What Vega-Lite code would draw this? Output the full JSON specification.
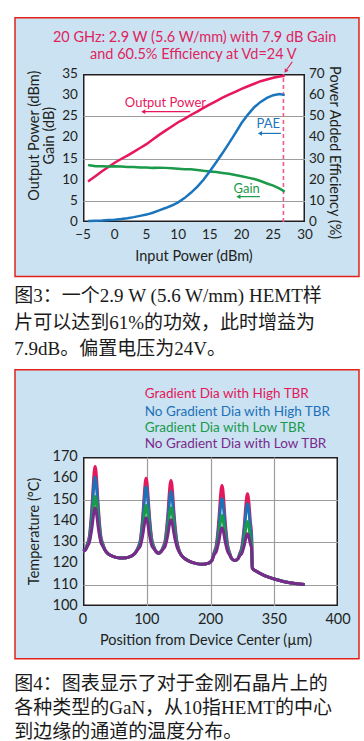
{
  "$schema": "https://vega.github.io/schema/vega-lite/v6.json",
  "background": "white",
  "padding": {"left": 12, "top": 15, "right": 8, "bottom": 10},
  "spacing": 6,
  "config": {
    "font": "Lato",
    "view": {"fill": "white", "stroke": "#231f20", "strokeWidth": 3},
    "text": {"color": "#231f20"},
    "axis": {"labels": false, "ticks": false, "domain": false, "grid": false, "gridColor": "#9d9d9d", "gridWidth": 1.2, "gridOpacity": 1}
  },
  "datasets": {
    "power": [
      {"pin": -4.2, "pout": 9.55, "gain": 13.5, "pae": 0.5},
      {"pin": -4, "pout": 9.8, "gain": 13.4, "pae": 0.5},
      {"pin": -3, "pout": 10.9, "gain": 13.2, "pae": 0.6},
      {"pin": -2, "pout": 12.0, "gain": 13.2, "pae": 0.7},
      {"pin": -1, "pout": 13.0, "gain": 13.1, "pae": 0.9},
      {"pin": 0, "pout": 14.0, "gain": 13.2, "pae": 1.1},
      {"pin": 1, "pout": 14.9, "gain": 13.1, "pae": 1.4},
      {"pin": 2, "pout": 15.7, "gain": 13.0, "pae": 1.8},
      {"pin": 3, "pout": 16.6, "gain": 13.0, "pae": 2.3},
      {"pin": 4, "pout": 17.5, "gain": 12.9, "pae": 2.9},
      {"pin": 5, "pout": 18.4, "gain": 12.9, "pae": 3.5},
      {"pin": 6, "pout": 19.5, "gain": 12.8, "pae": 4.4},
      {"pin": 7, "pout": 20.6, "gain": 12.85, "pae": 5.5},
      {"pin": 8, "pout": 21.6, "gain": 12.8, "pae": 6.6},
      {"pin": 9, "pout": 22.6, "gain": 12.7, "pae": 7.8},
      {"pin": 10, "pout": 23.6, "gain": 12.6, "pae": 9.3},
      {"pin": 11, "pout": 24.4, "gain": 12.5, "pae": 11.3},
      {"pin": 12, "pout": 25.3, "gain": 12.45, "pae": 13.8},
      {"pin": 13, "pout": 26.1, "gain": 12.3, "pae": 16.6},
      {"pin": 14, "pout": 27.0, "gain": 12.1, "pae": 20.0},
      {"pin": 15, "pout": 27.8, "gain": 11.95, "pae": 24.0},
      {"pin": 16, "pout": 28.6, "gain": 11.8, "pae": 28.3},
      {"pin": 17, "pout": 29.4, "gain": 11.6, "pae": 32.6},
      {"pin": 18, "pout": 30.1, "gain": 11.4, "pae": 37.2},
      {"pin": 19, "pout": 30.8, "gain": 11.1, "pae": 41.9},
      {"pin": 20, "pout": 31.5, "gain": 10.8, "pae": 46.8},
      {"pin": 21, "pout": 32.1, "gain": 10.5, "pae": 50.8},
      {"pin": 22, "pout": 32.7, "gain": 10.15, "pae": 54.3},
      {"pin": 23, "pout": 33.3, "gain": 9.7, "pae": 56.8},
      {"pin": 24, "pout": 33.7, "gain": 9.1, "pae": 58.7},
      {"pin": 25, "pout": 34.1, "gain": 8.6, "pae": 60.0},
      {"pin": 26, "pout": 34.4, "gain": 7.9, "pae": 60.5},
      {"pin": 26.8, "pout": 34.6, "gain": 7.2, "pae": 60.0}
    ],
    "temp": [
      {"pos": 0, "gh": 125.8, "ngh": 125.8, "gl": 125.8, "ngl": 125.8},
      {"pos": 3.5, "gh": 126.5, "ngh": 126.4, "gl": 126.3, "ngl": 126.2},
      {"pos": 7, "gh": 129.3, "ngh": 129.0, "gl": 128.5, "ngl": 128.1},
      {"pos": 10, "gh": 132.8, "ngh": 132.0, "gl": 130.7, "ngl": 129.9},
      {"pos": 12.5, "gh": 140.5, "ngh": 138.7, "gl": 135.6, "ngl": 133.7},
      {"pos": 14.5, "gh": 148.9, "ngh": 146.1, "gl": 141.0, "ngl": 137.8},
      {"pos": 16.4, "gh": 158.6, "ngh": 154.5, "gl": 147.1, "ngl": 142.6},
      {"pos": 17.7, "gh": 163.6, "ngh": 158.8, "gl": 150.3, "ngl": 145.1},
      {"pos": 19, "gh": 165.5, "ngh": 160.5, "gl": 151.5, "ngl": 146.0},
      {"pos": 20.3, "gh": 163.6, "ngh": 158.8, "gl": 150.3, "ngl": 145.1},
      {"pos": 21.6, "gh": 158.6, "ngh": 154.5, "gl": 147.1, "ngl": 142.6},
      {"pos": 23.5, "gh": 148.9, "ngh": 146.1, "gl": 141.0, "ngl": 137.8},
      {"pos": 25.5, "gh": 140.5, "ngh": 138.7, "gl": 135.6, "ngl": 133.7},
      {"pos": 28, "gh": 132.8, "ngh": 132.0, "gl": 130.7, "ngl": 129.9},
      {"pos": 31, "gh": 129.3, "ngh": 129.0, "gl": 128.5, "ngl": 128.1},
      {"pos": 35, "gh": 126.0, "ngh": 126.0, "gl": 126.0, "ngl": 126.0},
      {"pos": 40, "gh": 124.4, "ngh": 124.4, "gl": 124.4, "ngl": 124.4},
      {"pos": 48, "gh": 123.2, "ngh": 123.2, "gl": 123.2, "ngl": 123.2},
      {"pos": 58, "gh": 122.6, "ngh": 122.6, "gl": 122.6, "ngl": 122.6},
      {"pos": 68, "gh": 122.7, "ngh": 122.7, "gl": 122.7, "ngl": 122.7},
      {"pos": 76, "gh": 123.5, "ngh": 123.5, "gl": 123.5, "ngl": 123.5},
      {"pos": 82, "gh": 125.0, "ngh": 125.0, "gl": 124.9, "ngl": 124.9},
      {"pos": 87, "gh": 128.0, "ngh": 127.8, "gl": 127.3, "ngl": 126.9},
      {"pos": 90, "gh": 131.1, "ngh": 130.5, "gl": 129.2, "ngl": 128.3},
      {"pos": 92.5, "gh": 137.9, "ngh": 136.5, "gl": 133.4, "ngl": 131.4},
      {"pos": 94.5, "gh": 145.4, "ngh": 143.0, "gl": 138.1, "ngl": 134.8},
      {"pos": 96.4, "gh": 153.9, "ngh": 150.5, "gl": 143.4, "ngl": 138.7},
      {"pos": 97.7, "gh": 158.3, "ngh": 154.4, "gl": 146.1, "ngl": 140.7},
      {"pos": 99, "gh": 160.0, "ngh": 155.9, "gl": 147.2, "ngl": 141.5},
      {"pos": 100.3, "gh": 158.3, "ngh": 154.4, "gl": 146.1, "ngl": 140.7},
      {"pos": 101.6, "gh": 153.9, "ngh": 150.5, "gl": 143.4, "ngl": 138.7},
      {"pos": 103.5, "gh": 145.4, "ngh": 143.0, "gl": 138.1, "ngl": 134.8},
      {"pos": 105.5, "gh": 137.9, "ngh": 136.5, "gl": 133.4, "ngl": 131.4},
      {"pos": 108, "gh": 131.1, "ngh": 130.5, "gl": 129.2, "ngl": 128.3},
      {"pos": 111, "gh": 128.0, "ngh": 127.8, "gl": 127.3, "ngl": 126.9},
      {"pos": 114.5, "gh": 125.6, "ngh": 125.6, "gl": 125.6, "ngl": 125.6},
      {"pos": 118.5, "gh": 124.8, "ngh": 124.8, "gl": 124.8, "ngl": 124.8},
      {"pos": 122.5, "gh": 125.6, "ngh": 125.6, "gl": 125.6, "ngl": 125.6},
      {"pos": 126, "gh": 128.0, "ngh": 127.7, "gl": 127.2, "ngl": 126.9},
      {"pos": 129, "gh": 131.0, "ngh": 130.2, "gl": 129.0, "ngl": 128.2},
      {"pos": 131.5, "gh": 137.6, "ngh": 135.7, "gl": 133.1, "ngl": 131.1},
      {"pos": 133.5, "gh": 144.8, "ngh": 141.8, "gl": 137.5, "ngl": 134.3},
      {"pos": 135.4, "gh": 153.1, "ngh": 148.8, "gl": 142.6, "ngl": 137.9},
      {"pos": 136.7, "gh": 157.4, "ngh": 152.4, "gl": 145.2, "ngl": 139.8},
      {"pos": 138, "gh": 159.0, "ngh": 153.8, "gl": 146.2, "ngl": 140.5},
      {"pos": 139.3, "gh": 157.4, "ngh": 152.4, "gl": 145.2, "ngl": 139.8},
      {"pos": 140.6, "gh": 153.1, "ngh": 148.8, "gl": 142.6, "ngl": 137.9},
      {"pos": 142.5, "gh": 144.8, "ngh": 141.8, "gl": 137.5, "ngl": 134.3},
      {"pos": 144.5, "gh": 137.6, "ngh": 135.7, "gl": 133.1, "ngl": 131.1},
      {"pos": 147, "gh": 131.0, "ngh": 130.2, "gl": 129.0, "ngl": 128.2},
      {"pos": 150, "gh": 127.0, "ngh": 126.7, "gl": 126.2, "ngl": 125.9},
      {"pos": 154, "gh": 124.0, "ngh": 124.0, "gl": 124.0, "ngl": 124.0},
      {"pos": 160, "gh": 122.2, "ngh": 122.2, "gl": 122.2, "ngl": 122.2},
      {"pos": 168, "gh": 120.8, "ngh": 120.8, "gl": 120.8, "ngl": 120.8},
      {"pos": 178, "gh": 119.9, "ngh": 119.9, "gl": 119.9, "ngl": 119.9},
      {"pos": 188, "gh": 119.6, "ngh": 119.6, "gl": 119.6, "ngl": 119.6},
      {"pos": 196, "gh": 120.0, "ngh": 120.0, "gl": 120.0, "ngl": 120.0},
      {"pos": 202, "gh": 121.3, "ngh": 121.3, "gl": 121.3, "ngl": 121.3},
      {"pos": 206, "gh": 125.5, "ngh": 125.1, "gl": 124.6, "ngl": 124.3},
      {"pos": 209, "gh": 128.5, "ngh": 127.5, "gl": 126.4, "ngl": 125.5},
      {"pos": 211.5, "gh": 135.1, "ngh": 132.9, "gl": 130.2, "ngl": 128.2},
      {"pos": 213.5, "gh": 142.4, "ngh": 138.8, "gl": 134.3, "ngl": 131.1},
      {"pos": 215.4, "gh": 150.6, "ngh": 145.6, "gl": 139.1, "ngl": 134.4},
      {"pos": 216.7, "gh": 155.0, "ngh": 149.1, "gl": 141.5, "ngl": 136.1},
      {"pos": 218, "gh": 156.6, "ngh": 150.4, "gl": 142.5, "ngl": 136.8},
      {"pos": 219.3, "gh": 155.0, "ngh": 149.1, "gl": 141.5, "ngl": 136.1},
      {"pos": 220.6, "gh": 150.6, "ngh": 145.6, "gl": 139.1, "ngl": 134.4},
      {"pos": 222.5, "gh": 142.4, "ngh": 138.8, "gl": 134.3, "ngl": 131.1},
      {"pos": 224.5, "gh": 135.1, "ngh": 132.9, "gl": 130.2, "ngl": 128.2},
      {"pos": 227, "gh": 128.5, "ngh": 127.5, "gl": 126.4, "ngl": 125.5},
      {"pos": 230, "gh": 125.0, "ngh": 124.7, "gl": 124.3, "ngl": 124.0},
      {"pos": 233, "gh": 122.4, "ngh": 122.4, "gl": 122.4, "ngl": 122.4},
      {"pos": 238, "gh": 121.4, "ngh": 121.4, "gl": 121.4, "ngl": 121.4},
      {"pos": 243, "gh": 122.2, "ngh": 122.2, "gl": 122.2, "ngl": 122.2},
      {"pos": 246, "gh": 124.8, "ngh": 124.5, "gl": 124.0, "ngl": 123.7},
      {"pos": 249, "gh": 127.5, "ngh": 126.8, "gl": 125.5, "ngl": 124.6},
      {"pos": 251.5, "gh": 133.4, "ngh": 131.8, "gl": 128.8, "ngl": 126.8},
      {"pos": 253.5, "gh": 139.9, "ngh": 137.3, "gl": 132.5, "ngl": 129.2},
      {"pos": 255.4, "gh": 147.4, "ngh": 143.5, "gl": 136.7, "ngl": 131.9},
      {"pos": 256.7, "gh": 151.2, "ngh": 146.8, "gl": 138.9, "ngl": 133.3},
      {"pos": 258, "gh": 152.7, "ngh": 148.0, "gl": 139.7, "ngl": 133.9},
      {"pos": 259.3, "gh": 151.2, "ngh": 146.8, "gl": 138.9, "ngl": 133.3},
      {"pos": 260.6, "gh": 147.4, "ngh": 143.5, "gl": 136.7, "ngl": 131.9},
      {"pos": 262.5, "gh": 139.9, "ngh": 137.3, "gl": 132.5, "ngl": 129.2},
      {"pos": 264.5, "gh": 133.4, "ngh": 131.8, "gl": 128.8, "ngl": 126.8},
      {"pos": 265.5, "gh": 117.8, "ngh": 117.8, "gl": 117.8, "ngl": 117.8},
      {"pos": 272, "gh": 116.3, "ngh": 116.3, "gl": 116.3, "ngl": 116.3},
      {"pos": 280, "gh": 115.0, "ngh": 115.0, "gl": 115.0, "ngl": 115.0},
      {"pos": 290, "gh": 113.7, "ngh": 113.7, "gl": 113.7, "ngl": 113.7},
      {"pos": 300, "gh": 112.7, "ngh": 112.7, "gl": 112.7, "ngl": 112.7},
      {"pos": 310, "gh": 111.9, "ngh": 111.9, "gl": 111.9, "ngl": 111.9},
      {"pos": 320, "gh": 111.2, "ngh": 111.2, "gl": 111.2, "ngl": 111.2},
      {"pos": 330, "gh": 110.7, "ngh": 110.7, "gl": 110.7, "ngl": 110.7},
      {"pos": 340, "gh": 110.3, "ngh": 110.3, "gl": 110.3, "ngl": 110.3},
      {"pos": 348, "gh": 110.1, "ngh": 110.1, "gl": 110.1, "ngl": 110.1}
    ]
  },
  "vconcat": [
    {
      "width": 222,
      "height": 148,
      "title": {
        "text": ["图3：一个2.9 W (5.6 W/mm) HEMT样", "片可以达到61%的功效，此时增益为", "7.9dB。偏置电压为24V。"],
        "orient": "bottom", "anchor": "start", "offset": 10,
        "font": "Liberation Serif, Noto Sans CJK SC", "fontSize": 19, "fontWeight": "normal",
        "lineHeight": 26.5, "color": "#1a1a1a"
      },
      "resolve": {"scale": {"y": "independent"}},
      "layer": [
        {
          "layer": [
            {
              "data": {"values": [{}]},
              "mark": {"type": "rect", "fill": "#cae2f2"},
              "encoding": {
                "x": {"datum": -15.72, "type": "quantitative", "scale": {"domain": [-5, 30], "nice": false, "zero": false},
                  "axis": {"title": null, "grid": false}},
                "x2": {"datum": 38.51},
                "y": {"datum": 35, "type": "quantitative", "scale": {"domain": [0, 35], "nice": false, "zero": false},
                  "axis": {"title": null, "grid": true, "values": [5, 10, 15, 20, 25, 30]}},
                "y2": {"datum": 48.31}
              }
            },
            {
              "data": {"values": [{}]},
              "mark": {"type": "rect", "fill": "#cae2f2"},
              "encoding": {
                "x": {"datum": -15.72, "type": "quantitative"},
                "x2": {"datum": 38.51},
                "y": {"datum": -12.89, "type": "quantitative"},
                "y2": {"datum": 0}
              }
            },
            {
              "data": {"values": [{}]},
              "mark": {"type": "rect", "fill": "#cae2f2"},
              "encoding": {
                "x": {"datum": -15.72, "type": "quantitative"},
                "x2": {"datum": -5},
                "y": {"datum": 0, "type": "quantitative"},
                "y2": {"datum": 35}
              }
            },
            {
              "data": {"values": [{}]},
              "mark": {"type": "rect", "fill": "#cae2f2"},
              "encoding": {
                "x": {"datum": 30, "type": "quantitative"},
                "x2": {"datum": 38.51},
                "y": {"datum": 0, "type": "quantitative"},
                "y2": {"datum": 35}
              }
            },
            {
              "data": {"values": [{}]},
              "mark": {"type": "rule", "color": "#ec5a92", "strokeWidth": 1.6, "strokeDash": [4, 3]},
              "encoding": {
                "x": {"datum": 26.6, "type": "quantitative"},
                "y": {"datum": 0, "type": "quantitative"},
                "y2": {"datum": 35}
              }
            },
            {
              "data": {"name": "power"},
              "mark": {"type": "line", "color": "#e8175d", "strokeWidth": 2.5},
              "encoding": {
                "x": {"field": "pin", "type": "quantitative"},
                "y": {"field": "pout", "type": "quantitative"}
              }
            },
            {
              "data": {"name": "power"},
              "mark": {"type": "line", "color": "#1a9a4a", "strokeWidth": 2.5},
              "encoding": {
                "x": {"field": "pin", "type": "quantitative"},
                "y": {"field": "gain", "type": "quantitative"}
              }
            },
            {
              "data": {"values": [{"v": -5}, {"v": 0}, {"v": 5}, {"v": 10}, {"v": 15}, {"v": 20}, {"v": 25}, {"v": 30}]},
              "mark": {"type": "text", "fontSize": 13.5, "align": "center", "baseline": "middle"},
              "encoding": {
                "x": {"field": "v", "type": "quantitative"},
                "y": {"datum": -3.19, "type": "quantitative"},
                "text": {"field": "v", "type": "quantitative"}
              }
            },
            {
              "data": {"values": [{"v": 0}, {"v": 5}, {"v": 10}, {"v": 15}, {"v": 20}, {"v": 25}, {"v": 30}, {"v": 35}]},
              "mark": {"type": "text", "fontSize": 13.5, "align": "right", "baseline": "middle"},
              "encoding": {
                "x": {"datum": -5.8, "type": "quantitative"},
                "y": {"field": "v", "type": "quantitative"},
                "text": {"field": "v", "type": "quantitative"}
              }
            },
            {
              "data": {"values": [{}]},
              "mark": {"type": "text", "text": "Input Power (dBm)", "fontSize": 14.5, "align": "center", "baseline": "middle"},
              "encoding": {
                "x": {"datum": 12.5, "type": "quantitative"},
                "y": {"datum": -8.38, "type": "quantitative"}
              }
            },
            {
              "data": {"values": [{}]},
              "mark": {"type": "text", "text": "Output Power (dBm)", "fontSize": 14.5, "align": "center", "baseline": "middle", "angle": 270},
              "encoding": {
                "x": {"datum": -12.57, "type": "quantitative"},
                "y": {"datum": 20.4, "type": "quantitative"}
              }
            },
            {
              "data": {"values": [{}]},
              "mark": {"type": "text", "text": "Gain (dB)", "fontSize": 14.5, "align": "center", "baseline": "middle", "angle": 270},
              "encoding": {
                "x": {"datum": -10.2, "type": "quantitative"},
                "y": {"datum": 20.4, "type": "quantitative"}
              }
            },
            {
              "data": {"values": [{}]},
              "mark": {"type": "text", "text": "Output Power", "color": "#e8175d", "fontSize": 13, "align": "center", "baseline": "middle"},
              "encoding": {
                "x": {"datum": 8.0, "type": "quantitative"},
                "y": {"datum": 28.2, "type": "quantitative"}
              }
            },
            {
              "data": {"values": [{}]},
              "mark": {"type": "rule", "color": "#e8175d", "strokeWidth": 1.2},
              "encoding": {
                "x": {"datum": 4.6, "type": "quantitative"},
                "x2": {"datum": 11.9},
                "y": {"datum": 26.1, "type": "quantitative"}
              }
            },
            {
              "data": {"values": [{}]},
              "mark": {"type": "point", "shape": "triangle-left", "filled": true, "color": "#e8175d", "size": 22, "opacity": 1},
              "encoding": {
                "x": {"datum": 4.5, "type": "quantitative"},
                "y": {"datum": 26.1, "type": "quantitative"}
              }
            },
            {
              "data": {"values": [{}]},
              "mark": {"type": "text", "text": "Gain", "color": "#1a9a4a", "fontSize": 13, "align": "center", "baseline": "middle"},
              "encoding": {
                "x": {"datum": 20.8, "type": "quantitative"},
                "y": {"datum": 7.9, "type": "quantitative"}
              }
            },
            {
              "data": {"values": [{}]},
              "mark": {"type": "rule", "color": "#1a9a4a", "strokeWidth": 1.2},
              "encoding": {
                "x": {"datum": 19.6, "type": "quantitative"},
                "x2": {"datum": 22.9},
                "y": {"datum": 6.0, "type": "quantitative"}
              }
            },
            {
              "data": {"values": [{}]},
              "mark": {"type": "point", "shape": "triangle-left", "filled": true, "color": "#1a9a4a", "size": 22, "opacity": 1},
              "encoding": {
                "x": {"datum": 19.5, "type": "quantitative"},
                "y": {"datum": 6.0, "type": "quantitative"}
              }
            },
            {
              "data": {"values": [{}]},
              "mark": {"type": "text", "text": "20 GHz: 2.9 W (5.6 W/mm) with 7.9 dB Gain", "color": "#e0245e", "fontSize": 14.5, "align": "center", "baseline": "middle"},
              "encoding": {
                "x": {"datum": 12.6, "type": "quantitative"},
                "y": {"datum": 43.58, "type": "quantitative"}
              }
            },
            {
              "data": {"values": [{}]},
              "mark": {"type": "text", "text": "and 60.5% Efficiency at Vd=24 V", "color": "#e0245e", "fontSize": 14.5, "align": "center", "baseline": "middle"},
              "encoding": {
                "x": {"datum": 12.4, "type": "quantitative"},
                "y": {"datum": 39.49, "type": "quantitative"}
              }
            },
            {
              "data": {"values": [{}]},
              "mark": {"type": "rule", "color": "#e0245e", "strokeWidth": 1.2},
              "encoding": {
                "x": {"datum": 28.0, "type": "quantitative"},
                "x2": {"datum": 27.1},
                "y": {"datum": 37.9, "type": "quantitative"},
                "y2": {"datum": 36.0}
              }
            },
            {
              "data": {"values": [{}]},
              "mark": {"type": "point", "shape": "triangle", "angle": 215, "filled": true, "color": "#e0245e", "size": 20, "opacity": 1},
              "encoding": {
                "x": {"datum": 27.0, "type": "quantitative"},
                "y": {"datum": 35.8, "type": "quantitative"}
              }
            },
            {
              "data": {"values": [{}]},
              "mark": {"type": "rect", "fill": null, "fillOpacity": 0, "stroke": "#e2231a", "strokeWidth": 1.5},
              "encoding": {
                "x": {"datum": -15.72, "type": "quantitative"},
                "x2": {"datum": 38.51},
                "y": {"datum": -12.89, "type": "quantitative"},
                "y2": {"datum": 48.31}
              }
            }
          ]
        },
        {
          "layer": [
            {
              "data": {"name": "power"},
              "mark": {"type": "line", "color": "#1b75bc", "strokeWidth": 2.5},
              "encoding": {
                "x": {"field": "pin", "type": "quantitative"},
                "y": {"field": "pae", "type": "quantitative", "scale": {"domain": [0, 70], "nice": false, "zero": false},
                  "axis": {"title": null, "grid": false, "orient": "right"}}
              }
            },
            {
              "data": {"values": [{"v": 0}, {"v": 10}, {"v": 20}, {"v": 30}, {"v": 40}, {"v": 50}, {"v": 60}, {"v": 70}]},
              "mark": {"type": "text", "fontSize": 13.5, "align": "left", "baseline": "middle"},
              "encoding": {
                "x": {"datum": 30.63, "type": "quantitative"},
                "y": {"field": "v", "type": "quantitative"},
                "text": {"field": "v", "type": "quantitative"}
              }
            },
            {
              "data": {"values": [{}]},
              "mark": {"type": "text", "text": "Power Added Efficiency (%)", "fontSize": 14.5, "align": "center", "baseline": "middle", "angle": 90},
              "encoding": {
                "x": {"datum": 34.5, "type": "quantitative"},
                "y": {"datum": 32.8, "type": "quantitative"}
              }
            },
            {
              "data": {"values": [{}]},
              "mark": {"type": "text", "text": "PAE", "color": "#1b75bc", "fontSize": 13, "align": "center", "baseline": "middle"},
              "encoding": {
                "x": {"datum": 24.2, "type": "quantitative"},
                "y": {"datum": 46.2, "type": "quantitative"}
              }
            },
            {
              "data": {"values": [{}]},
              "mark": {"type": "rule", "color": "#1b75bc", "strokeWidth": 1.2},
              "encoding": {
                "x": {"datum": 23.0, "type": "quantitative"},
                "x2": {"datum": 26.2},
                "y": {"datum": 41.9, "type": "quantitative"}
              }
            },
            {
              "data": {"values": [{}]},
              "mark": {"type": "point", "shape": "triangle-left", "filled": true, "color": "#1b75bc", "size": 22, "opacity": 1},
              "encoding": {
                "x": {"datum": 22.9, "type": "quantitative"},
                "y": {"datum": 41.9, "type": "quantitative"}
              }
            }
          ]
        }
      ]
    },
    {
      "width": 255,
      "height": 149,
      "title": {
        "text": ["图4：图表显示了对于金刚石晶片上的", "各种类型的GaN，从10指HEMT的中心", "到边缘的通道的温度分布。"],
        "orient": "bottom", "anchor": "start", "offset": 16,
        "font": "Liberation Serif, Noto Sans CJK SC", "fontSize": 19, "fontWeight": "normal",
        "lineHeight": 24, "color": "#1a1a1a"
      },
      "layer": [
        {
          "data": {"values": [{}]},
          "mark": {"type": "rect", "fill": "#cae2f2"},
          "encoding": {
            "x": {"datum": -106.67, "type": "quantitative", "scale": {"domain": [0, 400], "nice": false, "zero": false},
              "axis": {"title": null, "grid": true, "values": [100, 200, 300]}},
            "x2": {"datum": 432.94},
            "y": {"datum": 170, "type": "quantitative", "scale": {"domain": [100, 170], "nice": false, "zero": false},
              "axis": {"title": null, "grid": true, "values": [110, 120, 130, 140, 150, 160]}},
            "y2": {"datum": 211.01}
          }
        },
        {
          "data": {"values": [{}]},
          "mark": {"type": "rect", "fill": "#cae2f2"},
          "encoding": {
            "x": {"datum": -106.67, "type": "quantitative"},
            "x2": {"datum": 432.94},
            "y": {"datum": 75.24, "type": "quantitative"},
            "y2": {"datum": 100}
          }
        },
        {
          "data": {"values": [{}]},
          "mark": {"type": "rect", "fill": "#cae2f2"},
          "encoding": {
            "x": {"datum": -106.67, "type": "quantitative"},
            "x2": {"datum": 0},
            "y": {"datum": 100, "type": "quantitative"},
            "y2": {"datum": 170}
          }
        },
        {
          "data": {"values": [{}]},
          "mark": {"type": "rect", "fill": "#cae2f2"},
          "encoding": {
            "x": {"datum": 400, "type": "quantitative"},
            "x2": {"datum": 432.94},
            "y": {"datum": 100, "type": "quantitative"},
            "y2": {"datum": 170}
          }
        },
        {
          "data": {"name": "temp"},
          "mark": {"type": "line", "color": "#e3195b", "strokeWidth": 3, "interpolate": "monotone"},
          "encoding": {
            "x": {"field": "pos", "type": "quantitative"},
            "y": {"field": "gh", "type": "quantitative"}
          }
        },
        {
          "data": {"name": "temp"},
          "mark": {"type": "line", "color": "#1d71b8", "strokeWidth": 3, "interpolate": "monotone"},
          "encoding": {
            "x": {"field": "pos", "type": "quantitative"},
            "y": {"field": "ngh", "type": "quantitative"}
          }
        },
        {
          "data": {"name": "temp"},
          "mark": {"type": "line", "color": "#1a9a4b", "strokeWidth": 3, "interpolate": "monotone"},
          "encoding": {
            "x": {"field": "pos", "type": "quantitative"},
            "y": {"field": "gl", "type": "quantitative"}
          }
        },
        {
          "data": {"name": "temp"},
          "mark": {"type": "line", "color": "#7a2a8c", "strokeWidth": 3, "interpolate": "monotone"},
          "encoding": {
            "x": {"field": "pos", "type": "quantitative"},
            "y": {"field": "ngl", "type": "quantitative"}
          }
        },
        {
          "data": {"values": [{"v": 0, "lab": "0"}, {"v": 100, "lab": "100"}, {"v": 200, "lab": "200"}, {"v": 300, "lab": "350"}, {"v": 400, "lab": "400"}]},
          "mark": {"type": "text", "fontSize": 14.5, "align": "center", "baseline": "middle"},
          "encoding": {
            "x": {"field": "v", "type": "quantitative"},
            "y": {"datum": 93.56, "type": "quantitative"},
            "text": {"field": "lab", "type": "nominal"}
          }
        },
        {
          "data": {"values": [{"v": 100}, {"v": 110}, {"v": 120}, {"v": 130}, {"v": 140}, {"v": 150}, {"v": 160}, {"v": 170}]},
          "mark": {"type": "text", "fontSize": 14.5, "align": "right", "baseline": "middle"},
          "encoding": {
            "x": {"datum": -8.3, "type": "quantitative"},
            "y": {"field": "v", "type": "quantitative"},
            "text": {"field": "v", "type": "quantitative"}
          }
        },
        {
          "data": {"values": [{}]},
          "mark": {"type": "text", "text": "Position from Device Center (µm)", "fontSize": 14.5, "align": "center", "baseline": "middle"},
          "encoding": {
            "x": {"datum": 193, "type": "quantitative"},
            "y": {"datum": 83.7, "type": "quantitative"}
          }
        },
        {
          "data": {"values": [{}]},
          "mark": {"type": "text", "text": "Temperature (°C)", "fontSize": 14.5, "align": "center", "baseline": "middle", "angle": 270},
          "encoding": {
            "x": {"datum": -75.3, "type": "quantitative"},
            "y": {"datum": 135.05, "type": "quantitative"}
          }
        },
        {
          "data": {"values": [{}]},
          "mark": {"type": "text", "text": "Gradient Dia with High TBR", "color": "#e3195b", "fontSize": 13.5, "align": "left", "baseline": "middle"},
          "encoding": {
            "x": {"datum": 96.8, "type": "quantitative"},
            "y": {"datum": 199.4, "type": "quantitative"}
          }
        },
        {
          "data": {"values": [{}]},
          "mark": {"type": "text", "text": "No Gradient Dia with High TBR", "color": "#1d71b8", "fontSize": 13.5, "align": "left", "baseline": "middle"},
          "encoding": {
            "x": {"datum": 96.8, "type": "quantitative"},
            "y": {"datum": 191.3, "type": "quantitative"}
          }
        },
        {
          "data": {"values": [{}]},
          "mark": {"type": "text", "text": "Gradient Dia with Low TBR", "color": "#1a9a4b", "fontSize": 13.5, "align": "left", "baseline": "middle"},
          "encoding": {
            "x": {"datum": 96.8, "type": "quantitative"},
            "y": {"datum": 183.4, "type": "quantitative"}
          }
        },
        {
          "data": {"values": [{}]},
          "mark": {"type": "text", "text": "No Gradient Dia with Low TBR", "color": "#7a2a8c", "fontSize": 13.5, "align": "left", "baseline": "middle"},
          "encoding": {
            "x": {"datum": 96.8, "type": "quantitative"},
            "y": {"datum": 175.9, "type": "quantitative"}
          }
        },
        {
          "data": {"values": [{}]},
          "mark": {"type": "rect", "fill": null, "fillOpacity": 0, "stroke": "#e2231a", "strokeWidth": 1.5},
          "encoding": {
            "x": {"datum": -106.67, "type": "quantitative"},
            "x2": {"datum": 432.94},
            "y": {"datum": 75.24, "type": "quantitative"},
            "y2": {"datum": 211.01}
          }
        }
      ]
    }
  ]
}
